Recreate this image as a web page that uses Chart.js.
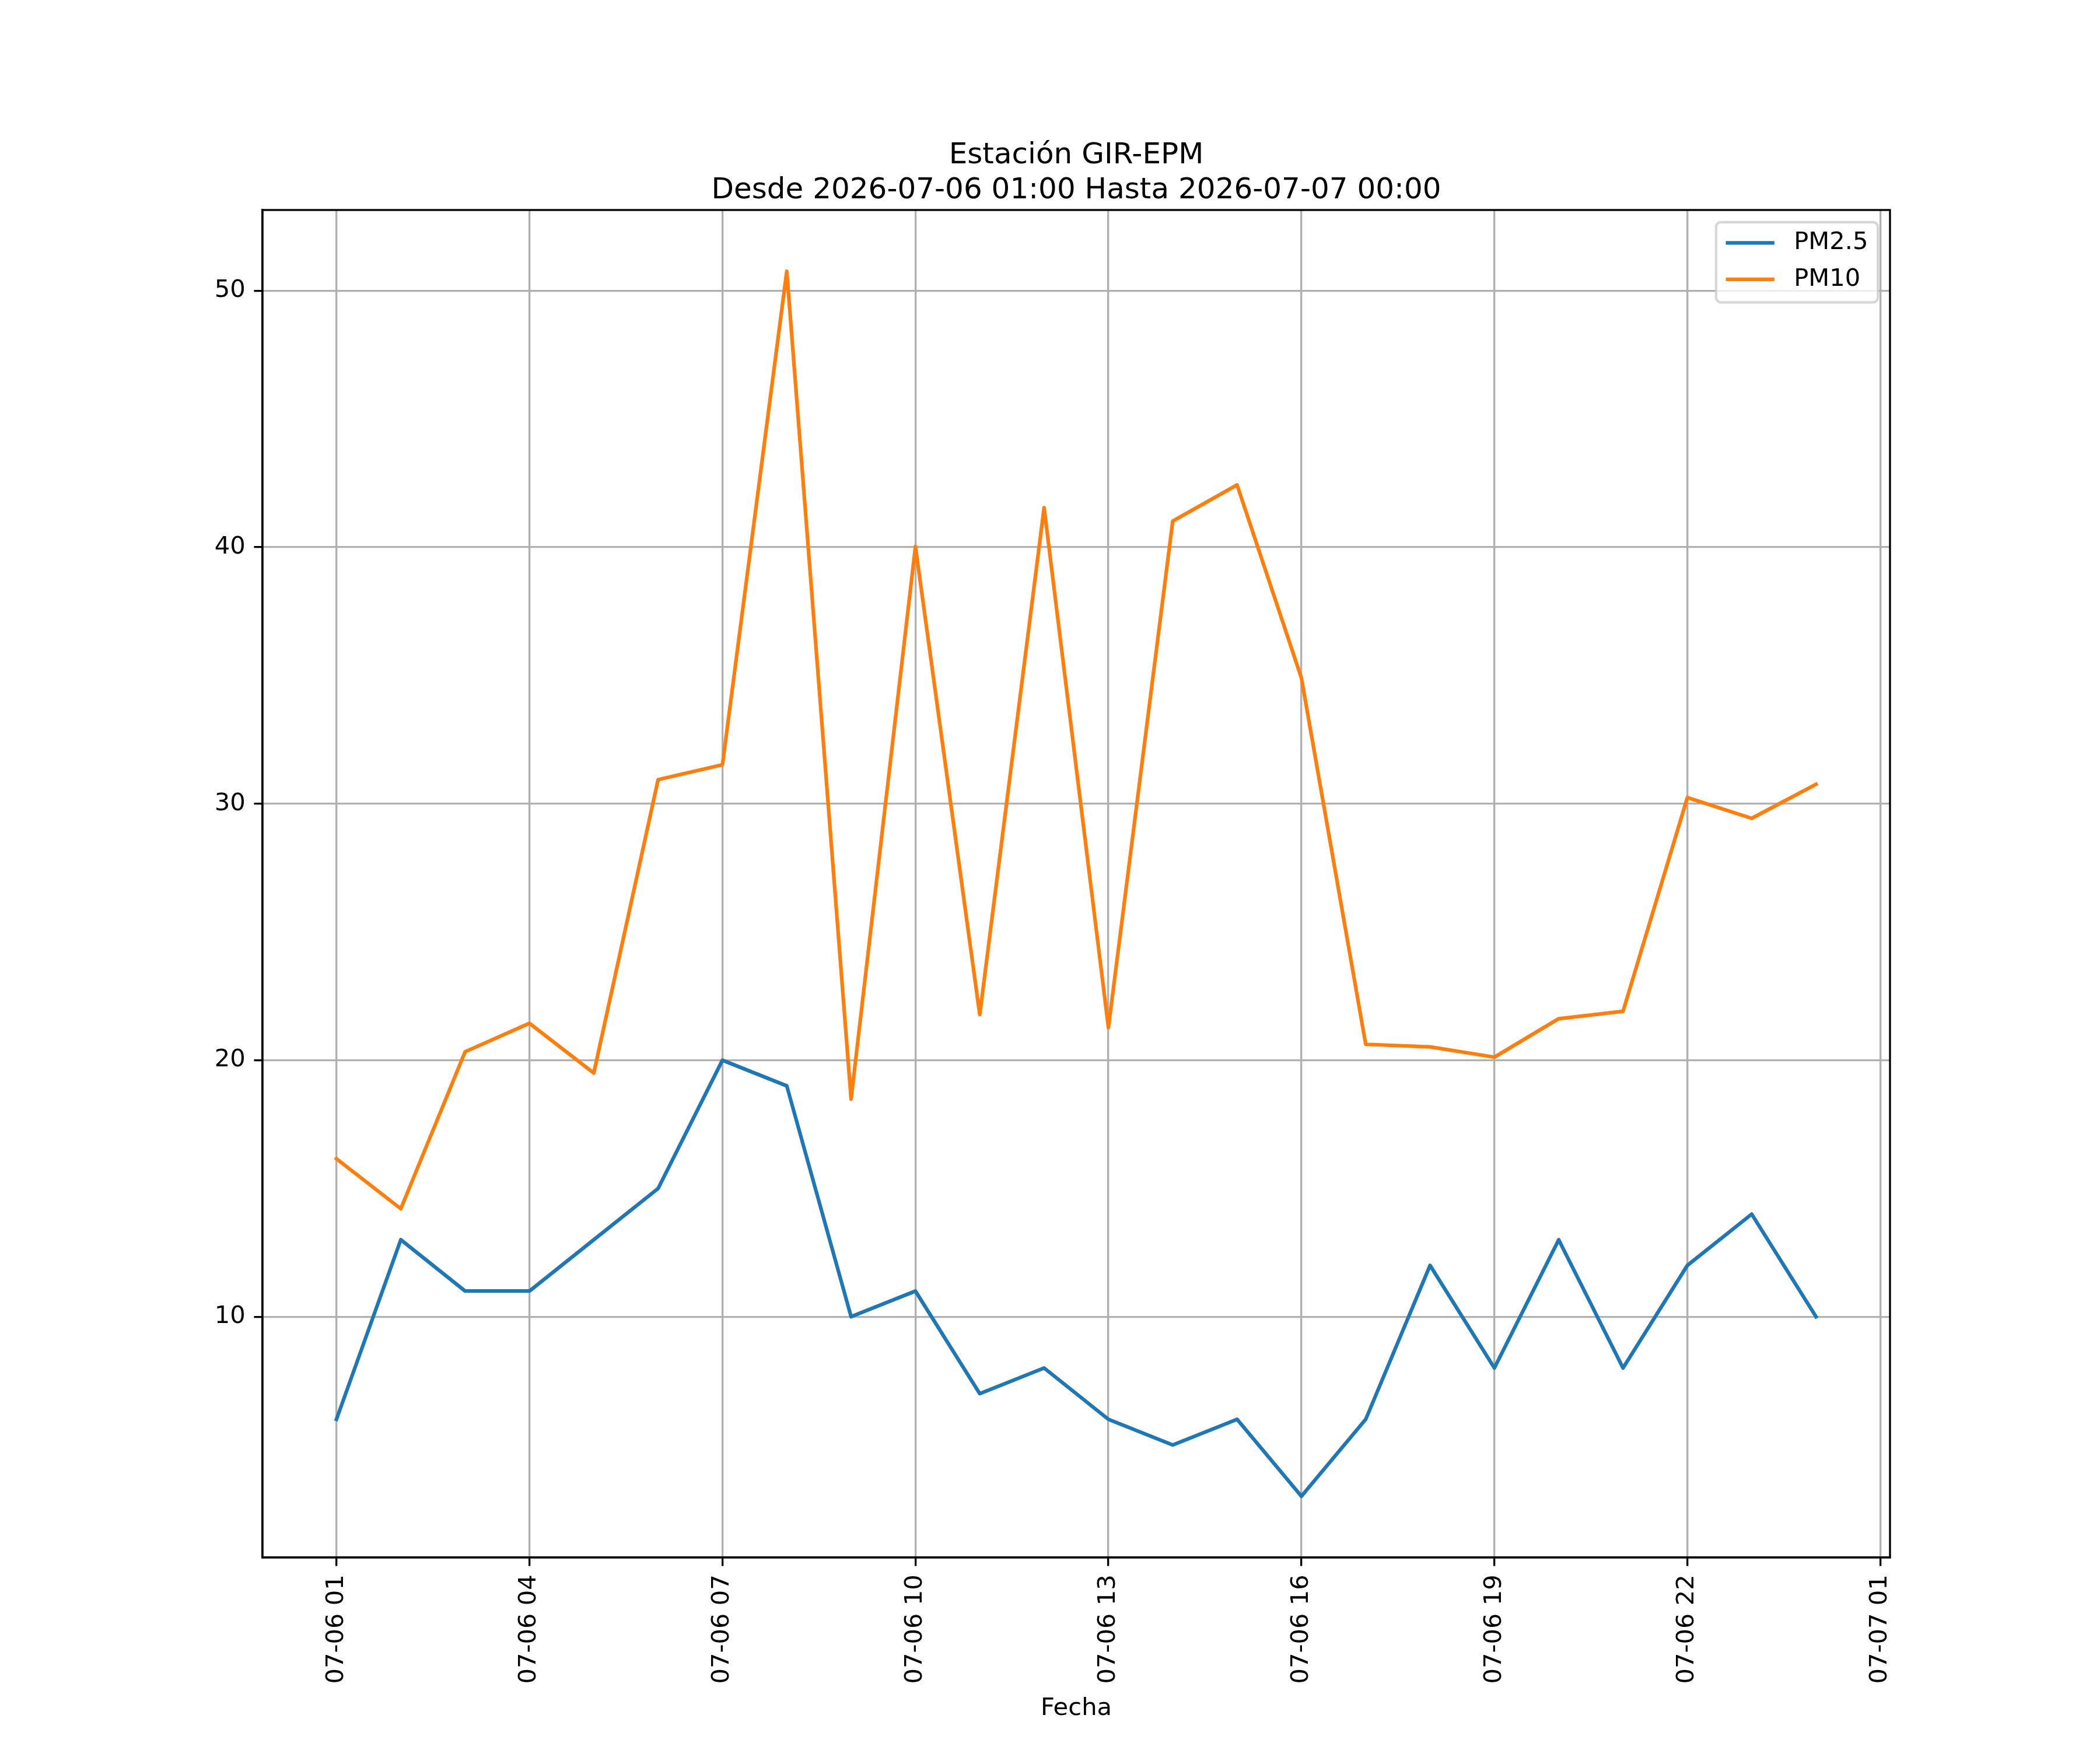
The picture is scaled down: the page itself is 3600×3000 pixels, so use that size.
<!DOCTYPE html>
<html>
<head>
<meta charset="utf-8">
<script src="https://cdn.jsdelivr.net/npm/chart.js@4.4.1/dist/chart.umd.min.js"></script>
<style>
  html, body { margin: 0; padding: 0; background: #fff; }
  canvas { display: block; }
</style>
</head>
<body>
<canvas id="myChart" width="3600" height="3000"></canvas>
<script>
// Data (hourly readings)
const hourLabels = ['07-06 01', '07-06 02', '07-06 03', '07-06 04', '07-06 05', '07-06 06',
    '07-06 07', '07-06 08', '07-06 09', '07-06 10', '07-06 11', '07-06 12',
    '07-06 13', '07-06 14', '07-06 15', '07-06 16', '07-06 17', '07-06 18',
    '07-06 19', '07-06 20', '07-06 21', '07-06 22', '07-06 23', '07-07 00'];
const pm25 = [6, 13, 11, 11, 13, 15, 20, 19, 10, 11, 7, 8, 6, 5, 6, 3, 6, 12, 8, 13, 8, 12, 14, 10];
const pm10 = [16.16, 14.21, 20.33, 21.44, 19.5, 30.94, 31.52, 50.76, 18.49, 40.03, 21.78, 41.54,
    21.27, 41.02, 42.43, 34.9, 20.62, 20.52, 20.12, 21.62, 21.91, 30.24, 29.43, 30.76];
const xTickLabels = ['07-06 01', '07-06 04', '07-06 07', '07-06 10', '07-06 13', '07-06 16',
    '07-06 19', '07-06 22', '07-07 01'];
const xTickHours = [0, 3, 6, 9, 12, 15, 18, 21, 24];
const yTicks = [10, 20, 30, 40, 50];

const FONT = 'DejaVu Sans';
const PT = 300 / 72; // figure was 300 dpi
const BOTTOM_PAD = 46;

// matplotlib style 5% margins
const allY = pm25.concat(pm10);
const yMin = Math.min(...allY), yMax = Math.max(...allY);
const xLast = hourLabels.length - 1;

function toPoints(values) {
    return values.map((v, i) => ({ x: i, y: v }));
}

// frame + legend drawn like matplotlib
const framePlugin = {
    id: 'frame',
    afterDatasetsDraw(chart) {
        const { ctx, chartArea: a } = chart;
        ctx.save();
        ctx.strokeStyle = '#000';
        ctx.lineWidth = 0.8 * PT;
        ctx.lineJoin = 'miter';
        ctx.strokeRect(a.left, a.top, a.right - a.left, a.bottom - a.top);
        ctx.restore();
    },
    afterDraw(chart) {
        const { ctx, chartArea: a } = chart;
        const fs = 10 * PT;
        const sets = chart.data.datasets;
        ctx.save();
        ctx.font = fs + 'px "' + FONT + '"';
        const textW = Math.max(...sets.map(d => ctx.measureText(d.label).width));
        const pad = 0.4 * fs, handle = 2 * fs, gap = 0.8 * fs, rowH = 1.5 * fs;
        const w = pad * 2 + handle + gap + textW;
        const h = pad * 2 + fs + rowH * (sets.length - 1);
        const right = a.right - 0.5 * fs, top = a.top + 0.5 * fs;
        const left = right - w;
        ctx.beginPath();
        ctx.roundRect(left, top, w, h, 0.2 * fs);
        ctx.fillStyle = 'rgba(255,255,255,0.8)';
        ctx.fill();
        ctx.strokeStyle = 'rgba(204,204,204,0.8)';
        ctx.lineWidth = 1 * PT;
        ctx.stroke();
        sets.forEach((d, i) => {
            const cy = top + pad + fs * 0.45 + i * rowH;
            ctx.beginPath();
            ctx.moveTo(left + pad, cy);
            ctx.lineTo(left + pad + handle, cy);
            ctx.strokeStyle = d.borderColor;
            ctx.lineWidth = 1.5 * PT;
            ctx.stroke();
            ctx.fillStyle = '#000';
            ctx.textBaseline = 'middle';
            ctx.fillText(d.label, left + pad + handle + gap, cy);
        });
        ctx.restore();
    }
};

const ctx = document.getElementById('myChart').getContext('2d');
const chart = new Chart(ctx, {
    type: 'line',
    data: {
        datasets: [{
            label: 'PM2.5',
            data: toPoints(pm25),
            borderColor: '#1f77b4',
            borderWidth: 1.5 * PT,
            pointRadius: 0,
            tension: 0,
            borderJoinStyle: 'round',
            borderCapStyle: 'square'
        }, {
            label: 'PM10',
            data: toPoints(pm10),
            borderColor: '#ff7f0e',
            borderWidth: 1.5 * PT,
            pointRadius: 0,
            tension: 0,
            borderJoinStyle: 'round',
            borderCapStyle: 'square'
        }]
    },
    plugins: [framePlugin],
    options: {
        responsive: false,
        devicePixelRatio: 1,
        animation: false,
        events: [],
        layout: { padding: { left: 0, right: 360, top: 0, bottom: BOTTOM_PAD } },
        plugins: {
            legend: { display: false },
            tooltip: { enabled: false },
            title: {
                display: true,
                fullSize: false,
                text: ['Estación GIR-EPM', 'Desde 2026-07-06 01:00 Hasta 2026-07-07 00:00'],
                color: '#000',
                font: { family: FONT, size: 12 * PT, weight: 'normal', lineHeight: 1.2 },
                padding: { top: 237, bottom: 3 }
            }
        },
        scales: {
            x: {
                type: 'linear',
                min: 0 - xLast * 0.05,
                max: xLast + xLast * 0.05,
                afterBuildTicks: s => { s.ticks = xTickHours.map(v => ({ value: v })); },
                afterFit: s => { s.height = 3000 - BOTTOM_PAD - 2670; },
                ticks: {
                    autoSkip: false,
                    maxRotation: 90,
                    minRotation: 90,
                    padding: 3.5 * PT,
                    color: '#000',
                    font: { family: FONT, size: 10 * PT },
                    callback: v => xTickLabels[xTickHours.indexOf(v)]
                },
                grid: {
                    color: '#b0b0b0',
                    lineWidth: 0.8 * PT,
                    tickColor: '#000',
                    tickLength: 3.5 * PT,
                    tickWidth: 0.8 * PT
                },
                border: { color: '#000', width: 0.8 * PT },
                title: {
                    display: true,
                    text: 'Fecha',
                    color: '#000',
                    font: { family: FONT, size: 10 * PT },
                    padding: 0
                }
            },
            y: {
                type: 'linear',
                min: yMin - (yMax - yMin) * 0.05,
                max: yMax + (yMax - yMin) * 0.05,
                afterBuildTicks: s => { s.ticks = yTicks.map(v => ({ value: v })); },
                afterFit: s => { s.width = 450; },
                ticks: {
                    padding: 3.5 * PT,
                    color: '#000',
                    font: { family: FONT, size: 10 * PT }
                },
                grid: {
                    color: '#b0b0b0',
                    lineWidth: 0.8 * PT,
                    tickColor: '#000',
                    tickLength: 3.5 * PT,
                    tickWidth: 0.8 * PT
                },
                border: { color: '#000', width: 0.8 * PT }
            }
        }
    }
});
</script>
</body>
</html>
